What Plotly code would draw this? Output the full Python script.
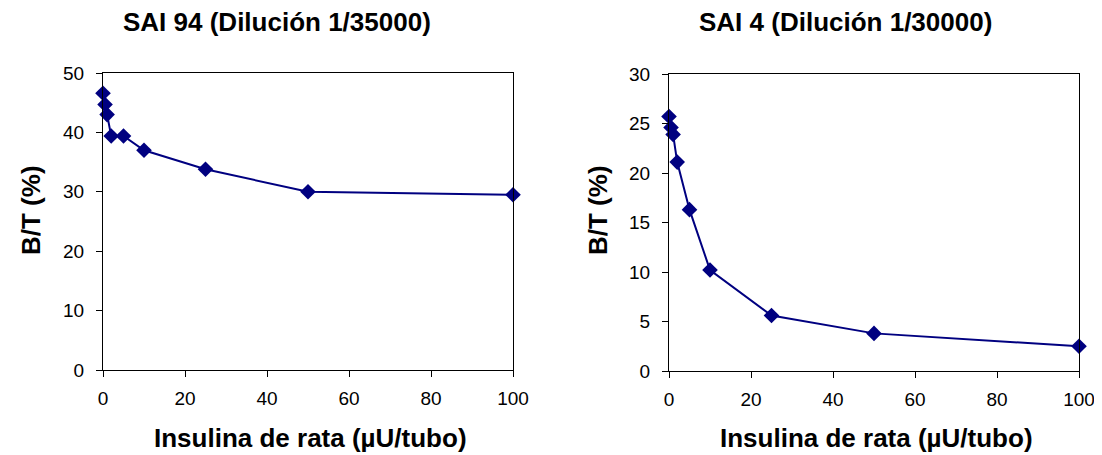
import plotly.graph_objects as go

insulina = [0, 0.5, 1, 2, 5, 10, 25, 50, 100]
bt_sai94 = [46.6, 44.7, 43.0, 39.4, 39.4, 37.0, 33.8, 30.0, 29.5]
bt_sai4 = [25.7, 24.6, 23.9, 21.1, 16.3, 10.2, 5.6, 3.8, 2.5]

title_left = "SAI 94 (Dilución 1/35000)"
title_right = "SAI 4 (Dilución 1/30000)"
xlabel = "Insulina de rata (µU/tubo)"
ylabel = "B/T (%)"

# page body has an 8px margin; the figure is sized to the visible area
OFF = 8
W, H = 1102 - OFF, 455 - OFF
navy = "#000080"
font = "Liberation Sans, Arial, sans-serif"

fig = go.Figure()
for xa, ya, ys in [("x", "y", bt_sai94), ("x2", "y2", bt_sai4)]:
    fig.add_trace(go.Scatter(
        x=insulina, y=ys, xaxis=xa, yaxis=ya, mode="lines+markers",
        line=dict(color=navy, width=2),
        marker=dict(symbol="diamond", size=12, color=navy),
        cliponaxis=False, showlegend=False))

def px(x):
    return (x - OFF) / W

def py(y):
    return 1 - (y - OFF) / H

axis_common = dict(showgrid=False, zeroline=False, showline=True, linecolor="black",
                   linewidth=1, mirror=True, ticks="outside", ticklen=6, automargin=False,
                   tickcolor="black", tickfont=dict(family=font, size=19, color="black"))

fig.update_layout(
    width=W, height=H, margin=dict(l=0, r=0, t=0, b=0),
    paper_bgcolor="white", plot_bgcolor="white",
    xaxis=dict(domain=[px(103), px(513)], range=[0, 100], dtick=20, anchor="y",
               ticklabelstandoff=5, **axis_common),
    yaxis=dict(domain=[py(370), py(73)], range=[0, 50], dtick=10, anchor="x",
               ticklabelstandoff=8, **axis_common),
    xaxis2=dict(domain=[px(669), px(1079)], range=[0, 100], dtick=20, anchor="y2",
                ticklabelstandoff=5, **axis_common),
    yaxis2=dict(domain=[py(371), py(74)], range=[0, 30], dtick=5, anchor="x2",
                ticklabelstandoff=8, **axis_common),
)

bold = dict(family=font, size=26, color="black")
ann = [
    (277, 22, title_left, 0),
    (845, 22, title_right, 0),
    (310, 438, xlabel, 0),
    (876, 438, xlabel, 0),
    (31, 210, ylabel, -90),
    (598, 210, ylabel, -90),
]
for x, y, t, ang in ann:
    fig.add_annotation(x=px(x), y=py(y), xref="paper", yref="paper", text="<b>" + t + "</b>",
                       showarrow=False, font=bold, textangle=ang, xanchor="center", yanchor="middle")

fig.write_html("out.html")
